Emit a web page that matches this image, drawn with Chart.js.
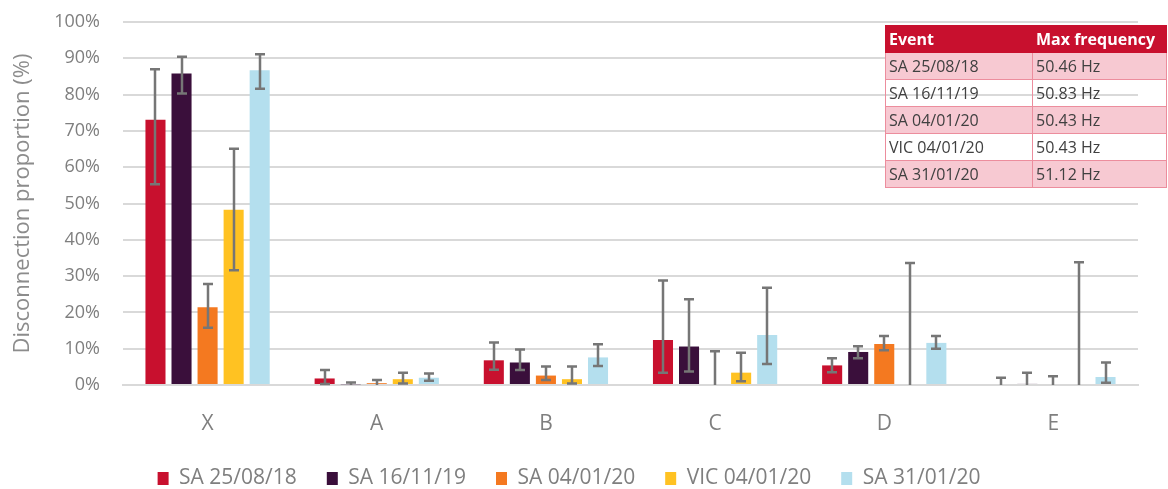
<!DOCTYPE html>
<html>
<head>
<meta charset="utf-8">
<script src="https://cdn.jsdelivr.net/npm/chart.js@4.4.1/dist/chart.umd.min.js"></script>
<style>
  html, body { margin: 0; padding: 0; background: #fff; }
  #wrap { position: relative; width: 1168px; height: 489px; }
  #freq-table {
    position: absolute; left: 885px; top: 25px; width: 282px;
    border-collapse: collapse; font-family: 'Open Sans', sans-serif;
    font-size: 16px; color: #404040;
  }
  #freq-table td, #freq-table th {
    border: 1px solid #ec8d9d; height: 26px; padding: 0 3px; text-align: left;
    white-space: nowrap; line-height: 26px;
  }
  #freq-table th { background: #c8102e; color: #fff; font-weight: 700; border-color: #c8102e; }
  #freq-table tr.pink td { background: #f7c9d2; }
</style>
</head>
<body>
<div id="wrap">
  <canvas id="chart" width="1168" height="489"></canvas>
  <table id="freq-table">
    <tr><th style="width:140px">Event</th><th>Max frequency</th></tr>
  </table>
</div>
<script>
const categories = ['X', 'A', 'B', 'C', 'D', 'E'];
const seriesNames = ['SA 25/08/18', 'SA 16/11/19', 'SA 04/01/20', 'VIC 04/01/20', 'SA 31/01/20'];
const seriesColors = ['#c8102e', '#3a0f3b', '#f47920', '#ffc222', '#b4dfee'];

// bar values (%)
const sa250818 = [73.1, 1.8, 6.8, 12.4, 5.4, 0];
const sa161119 = [85.8, 0.2, 6.2, 10.6, 9.1, 0.3];
const sa040120 = [21.4, 0.5, 2.6, 0, 11.3, 0];
const vic040120 = [48.3, 1.6, 1.6, 3.4, 0, 0];
const sa310120 = [86.7, 2.0, 7.6, 13.8, 11.6, 2.2];

// error bar lower / upper bounds (%)
const low250818 = [55.3, 0.3, 4.2, 3.4, 3.5, 0];
const low161119 = [80.3, 0, 4.1, 3.7, 7.4, 0];
const low040120 = [15.8, 0, 1.4, 0, 9.6, 0];
const lowVic040120 = [31.6, 0.4, 0.4, 1.0, 0, 0];
const low310120 = [81.6, 1.2, 5.2, 5.8, 10.0, 0.6];

const high250818 = [87.0, 4.1, 11.7, 28.8, 7.4, 2.0];
const high161119 = [90.4, 0.7, 9.8, 23.6, 10.7, 3.4];
const high040120 = [27.8, 1.4, 5.1, 9.3, 13.5, 2.4];
const highVic040120 = [65.1, 3.4, 5.1, 8.9, 33.6, 33.8];
const high310120 = [91.1, 3.2, 11.2, 26.8, 13.5, 6.2];

const yTicks = [0, 10, 20, 30, 40, 50, 60, 70, 80, 90, 100];

// table
const tableEvents = ['SA 25/08/18', 'SA 16/11/19', 'SA 04/01/20', 'VIC 04/01/20', 'SA 31/01/20'];
const tableFreqs = ['50.46 Hz', '50.83 Hz', '50.43 Hz', '50.43 Hz', '51.12 Hz'];

const values = [sa250818, sa161119, sa040120, vic040120, sa310120];
const lows = [low250818, low161119, low040120, lowVic040120, low310120];
const highs = [high250818, high161119, high040120, highVic040120, high310120];

const table = document.getElementById('freq-table');
tableEvents.forEach((ev, i) => {
    const tr = document.createElement('tr');
    if (i % 2 === 0) tr.className = 'pink';
    tr.innerHTML = '<td>' + ev + '</td><td>' + tableFreqs[i] + '</td>';
    table.appendChild(tr);
});

const errorBars = {
    id: 'errorBars',
    afterDatasetsDraw(chart) {
        const ctx = chart.ctx;
        const y = chart.scales.y;
        ctx.save();
        ctx.strokeStyle = '#767676';
        ctx.lineWidth = 2.5;
        chart.data.datasets.forEach((ds, di) => {
            const meta = chart.getDatasetMeta(di);
            meta.data.forEach((bar, i) => {
                const lo = ds.errLow[i], hi = ds.errHigh[i];
                const x = Math.round(bar.x);
                const yLo = y.getPixelForValue(lo), yHi = y.getPixelForValue(hi);
                ctx.beginPath();
                ctx.moveTo(x, yLo);
                ctx.lineTo(x, yHi);
                ctx.moveTo(x - 5, yHi);
                ctx.lineTo(x + 5, yHi);
                if (lo > 0) {
                    ctx.moveTo(x - 5, yLo);
                    ctx.lineTo(x + 5, yLo);
                }
                ctx.stroke();
            });
        });
        ctx.restore();
    }
};

const ctx = document.getElementById('chart').getContext('2d');
new Chart(ctx, {
    type: 'bar',
    data: {
        labels: categories,
        datasets: seriesNames.map((name, i) => ({
            label: name,
            data: values[i],
            errLow: lows[i],
            errHigh: highs[i],
            backgroundColor: seriesColors[i],
            borderWidth: 0,
            categoryPercentage: 0.77,
            barPercentage: 0.77
        }))
    },
    options: {
        responsive: false,
        animation: false,
        layout: { autoPadding: false, padding: { top: 22, right: 30, left: 0, bottom: -10 } },
        plugins: {
            legend: {
                position: 'bottom',
                labels: {
                    boxWidth: 11,
                    boxHeight: 13,
                    padding: 30,
                    color: '#7f7f7f',
                    font: { family: "'Open Sans', sans-serif", size: 21 }
                }
            },
            tooltip: { enabled: false }
        },
        scales: {
            x: {
                grid: { display: false, drawTicks: false },
                border: { color: '#d9d9d9', width: 2 },
                ticks: {
                    padding: 26,
                    color: '#7f7f7f',
                    font: { family: "'Open Sans', sans-serif", size: 21 }
                },
                afterFit: (scale) => { scale.height = 53; }
            },
            y: {
                min: 0,
                max: 100,
                afterBuildTicks: (scale) => { scale.ticks = yTicks.map(v => ({ value: v })); },
                grid: { color: '#d9d9d9', lineWidth: 2, drawTicks: true, tickLength: 23, tickColor: 'rgba(0,0,0,0)' },
                border: { display: false },
                ticks: {
                    padding: 0,
                    color: '#7f7f7f',
                    font: { family: "'Open Sans', sans-serif", size: 18 },
                    callback: (v) => v + '%'
                },
                title: {
                    display: true,
                    text: 'Disconnection proportion (%)',
                    color: '#8c8c8c',
                    padding: { top: 10, bottom: 0 },
                    font: { family: "'Open Sans', sans-serif", size: 22 }
                },
                afterFit: (scale) => { scale.width = 123; }
            }
        }
    },
    plugins: [errorBars]
});
</script>
</body>
</html>
